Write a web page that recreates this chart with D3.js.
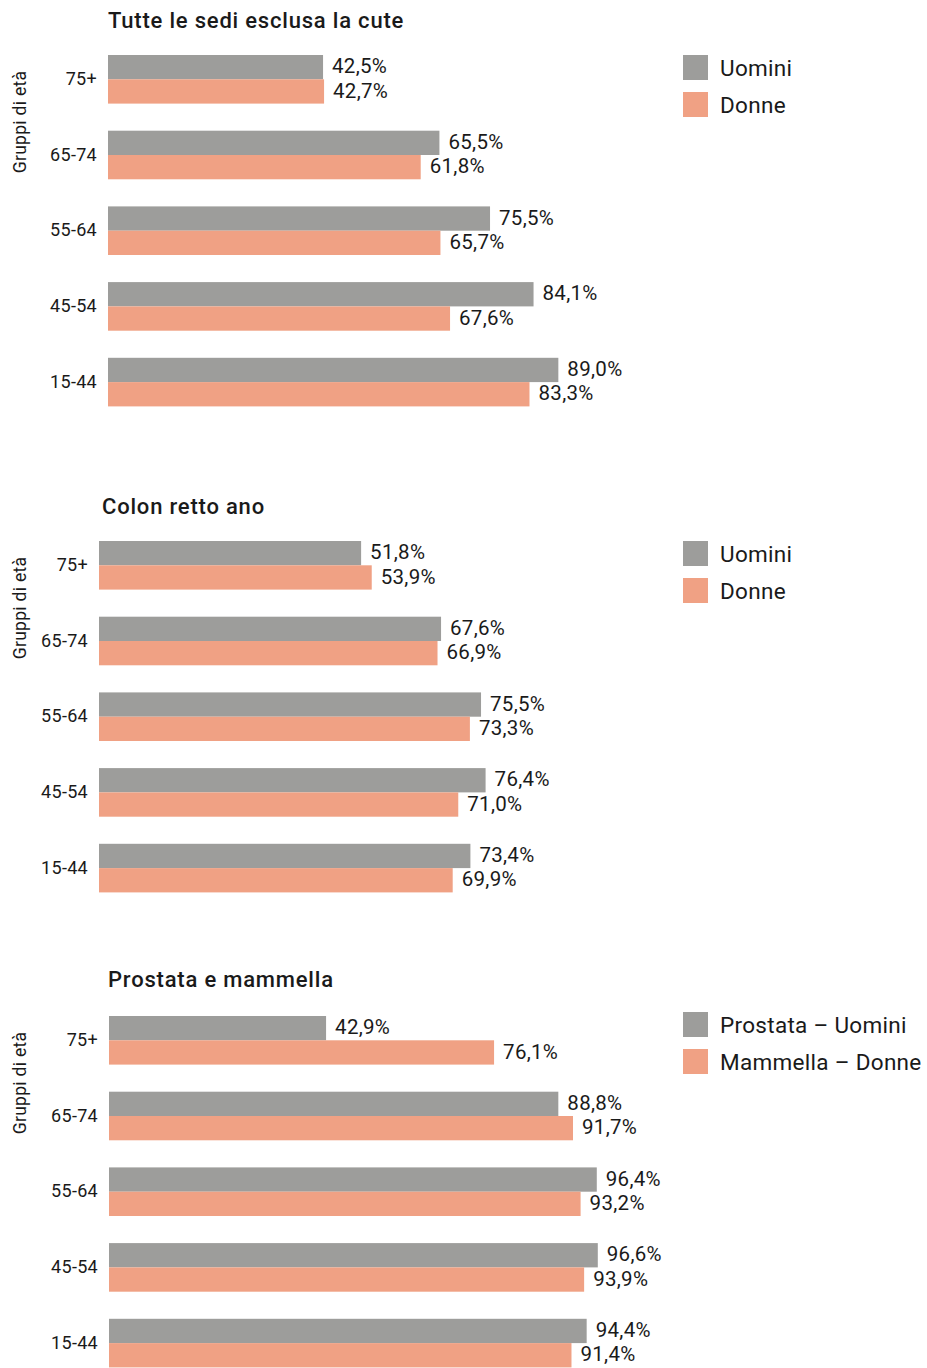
<!DOCTYPE html>
<html>
<head>
<meta charset="utf-8">
<script src="https://cdn.jsdelivr.net/npm/d3@7"></script>
<style>
  body { margin: 0; background: #fff; }
  svg text { font-family: "Roboto", "DejaVu Sans Condensed", sans-serif; fill: #1a1a1a; }
</style>
</head>
<body>
<svg id="chart" width="927" height="1368"></svg>
<script>
// age groups, top to bottom
var groups = ["75+", "65-74", "55-64", "45-54", "15-44"];

var tutteUomini = [42.5, 65.5, 75.5, 84.1, 89.0];
var tutteDonne = [42.7, 61.8, 65.7, 67.6, 83.3];

var colonUomini = [51.8, 67.6, 75.5, 76.4, 73.4];
var colonDonne = [53.9, 66.9, 73.3, 71.0, 69.9];

var prostataUomini = [42.9, 88.8, 96.4, 96.6, 94.4];
var mammellaDonne = [76.1, 91.7, 93.2, 93.9, 91.4];

var colors = ["#9d9d9b", "#f0a184"];

var panels = [
    { title: "Tutte le sedi esclusa la cute", series: [tutteUomini, tutteDonne],
      legend: ["Uomini", "Donne"], titleX: 108, titleY: 28, x0: 108, top: 55, legendY: 55 },
    { title: "Colon retto ano", series: [colonUomini, colonDonne],
      legend: ["Uomini", "Donne"], titleX: 102, titleY: 514, x0: 99, top: 541, legendY: 541 },
    { title: "Prostata e mammella", series: [prostataUomini, mammellaDonne],
      legend: ["Prostata \u2013 Uomini", "Mammella \u2013 Donne"], titleX: 108, titleY: 987, x0: 109, top: 1016, legendY: 1012 }
]

var svg = d3.select('#chart');
var x = d3.scaleLinear().domain([0, 100]).range([0, 506]);
var barH = 24.3;
var fmt = function(v) { return d3.format(".1f")(v).replace(".", ",") + "%"; };

panels.forEach(function(p) {
    var y = d3.scaleBand().domain(groups).range([p.top, p.top + 5 * 75.7]);

    svg.append("text")
        .attr("x", p.titleX)
        .attr("y", p.titleY)
        .style("font-size", "22px")
        .style("font-weight", "500")
        .style("letter-spacing", "0.8px")
        .text(p.title);

    // bars for the two series
    p.series.forEach(function(vals, s) {
        var g = svg.append("g");
        g.selectAll("rect")
            .data(groups)
            .enter().append("rect")
            .attr("x", p.x0)
            .attr("y", function(d) { return y(d) + s * barH; })
            .attr("width", function(d, i) { return x(vals[i]); })
            .attr("height", barH)
            .attr("fill", colors[s]);
        g.selectAll("text")
            .data(groups)
            .enter().append("text")
            .attr("x", function(d, i) { return p.x0 + x(vals[i]) + 9; })
            .attr("y", function(d) { return y(d) + s * barH + barH / 2; })
            .attr("dy", "0.3em")
            .style("font-size", "20.5px")
            .style("letter-spacing", "0.3px")
            .text(function(d, i) { return fmt(vals[i]); });
    });

    // group labels
    var axis = d3.axisLeft(y).tickSize(0).tickPadding(11);
    var ax = svg.append("g")
        .attr("transform", "translate(" + p.x0 + "," + (barH - y.bandwidth() / 2) + ")")
        .call(axis);
    ax.select(".domain").remove();
    ax.selectAll("text")
        .style("font-size", "18px")
        .style("font-family", "Roboto, sans-serif")
        .style("letter-spacing", "0.3px")
        .attr("fill", "#1a1a1a");

    svg.append("text")
        .attr("transform", "translate(26," + (p.top + 67) + ") rotate(-90)")
        .attr("text-anchor", "middle")
        .style("font-size", "17.5px")
        .style("letter-spacing", "0.3px")
        .text("Gruppi di et\u00e0");

    // legend
    p.legend.forEach(function(name, s) {
        svg.append("rect")
            .attr("x", 683)
            .attr("y", p.legendY + s * 37)
            .attr("width", 25)
            .attr("height", 25)
            .attr("fill", colors[s]);
        svg.append("text")
            .attr("x", 720)
            .attr("y", p.legendY + s * 37 + 12.5)
            .attr("dy", "0.38em")
            .style("font-size", "22.5px")
            .style("letter-spacing", "0.3px")
            .text(name);
    });
});
</script>
</body>
</html>
